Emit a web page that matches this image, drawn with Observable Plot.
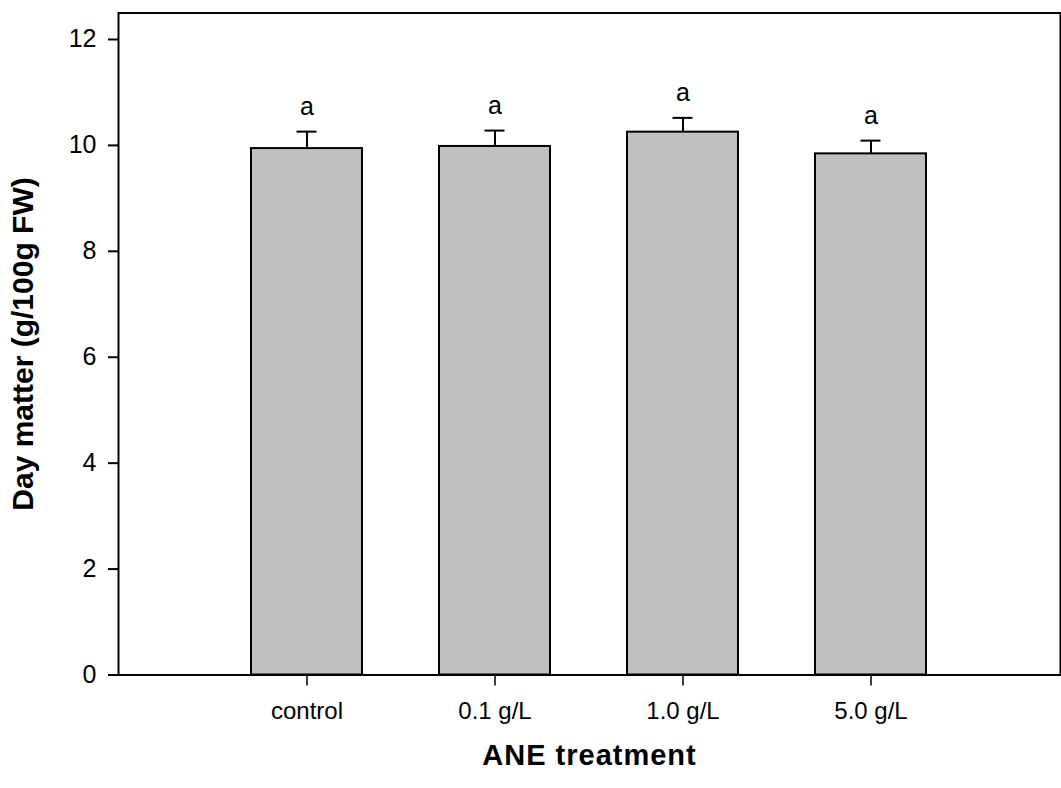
<!DOCTYPE html>
<html>
<head>
<meta charset="utf-8">
<script src="https://cdn.jsdelivr.net/npm/d3@7"></script>
<script src="https://cdn.jsdelivr.net/npm/@observablehq/plot@0.6"></script>
<style>
  html, body { margin: 0; padding: 0; background: #fff; }
  #chart svg { display: block; }
</style>
</head>
<body>
<div id="chart"></div>
<script>
// Dry matter by ANE treatment: means, upper error (SE) and significance letters
const treatments = ["control", "0.1 g/L", "1.0 g/L", "5.0 g/L"];
const means = [9.94, 9.98, 10.25, 9.84];
const errors = [0.32, 0.30, 0.27, 0.25];
const letters = ["a", "a", "a", "a"];
const yTicks = [0, 2, 4, 6, 8, 10, 12];

const data = treatments.map((t, i) => ({
  treatment: t,
  mean: means[i],
  top: means[i] + errors[i],
  letter: letters[i]
}));

const font = "Arial, 'Liberation Sans', Helvetica, sans-serif";

const chart = Plot.plot({
  width: 1061,
  height: 788,
  marginLeft: 118,
  marginRight: 1,
  marginTop: 12.5,
  marginBottom: 113.5,
  style: { fontFamily: font, color: "#000", background: "#fff", overflow: "visible" },
  x: {
    type: "band",
    domain: treatments,
    paddingInner: 0.407,
    paddingOuter: 0.696
  },
  y: { domain: [0, 12.5] },
  marks: [
    Plot.barY(data, {
      x: "treatment", y: "mean",
      fill: "#c0c0c0", stroke: "#000", strokeWidth: 2
    }),
    // error bar stems and caps
    Plot.ruleX(data, { x: "treatment", y1: "mean", y2: "top", stroke: "#000", strokeWidth: 2 }),
    Plot.tickY(data, { x: "treatment", y: "top", stroke: "#000", strokeWidth: 2, insetLeft: 45.5, insetRight: 45.5 }),
    Plot.text(data, { x: "treatment", y: "top", text: "letter", dy: -25, fontSize: 25 }),
    Plot.axisY({ ticks: yTicks, tickSize: 10, tickPadding: 12, fontSize: 25, strokeWidth: 2, label: null }),
    Plot.axisX({ tickSize: 11, tickPadding: 16, fontSize: 24, strokeWidth: 1.5, label: null }),
    Plot.frame({ stroke: "#000", strokeWidth: 2 }),
    Plot.text(["Day matter (g/100g FW)"], {
      frameAnchor: "left", dx: -95, rotate: -90, textAnchor: "middle",
      fontSize: 30, fontWeight: "bold"
    }),
    Plot.text(["ANE treatment"], {
      frameAnchor: "bottom", dy: 90, textAnchor: "middle",
      fontSize: 29, fontWeight: "bold"
    })
  ]
});

// the horizontal axis title is set slightly wider than its type size
d3.select(chart).selectAll("text")
  .filter(function () { return this.textContent === "ANE treatment"; })
  .attr("letter-spacing", "1px");

document.getElementById("chart").appendChild(chart);
</script>
</body>
</html>
